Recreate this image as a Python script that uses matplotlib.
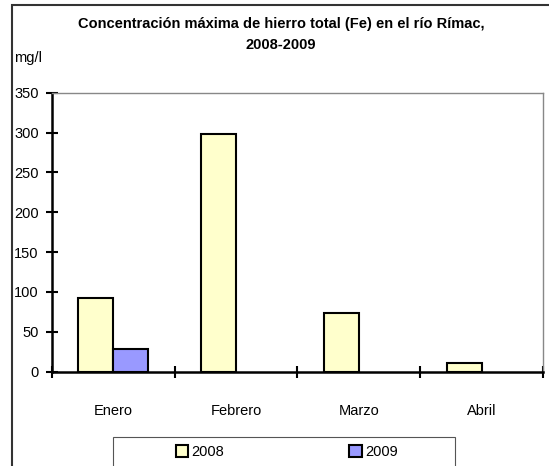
import numpy as np
import matplotlib.pyplot as plt
from matplotlib.patches import Rectangle

meses = ['Enero', 'Febrero', 'Marzo', 'Abril']
fe_2008 = [92, 298, 73, 11]
fe_2009 = [28, 0, 0, 0]
anios = ['2008', '2009']
colores = ['#FFFFCC', '#9999FF']

plt.rcParams['font.family'] = ['Liberation Sans', 'DejaVu Sans']

fig = plt.figure(figsize=(5.49, 4.66), dpi=100)
ax = fig.add_axes([0.0947, 0.2024, 0.8943, 0.5987])

x = np.arange(len(meses))
w = 1 / 3.5
b1 = ax.bar(x - w / 2, fe_2008, w, color=colores[0], edgecolor='black', linewidth=1.5, label=anios[0])
vals09 = [v if v > 0 else np.nan for v in fe_2009]
b2 = ax.bar(x + w / 2, vals09, w, color=colores[1], edgecolor='black', linewidth=1.5, label=anios[1])

ax.set_xlim(-0.5, len(meses) - 0.5)
ax.set_ylim(0, 350)
ax.set_yticks(range(0, 351, 50))
ax.set_xticks(np.arange(-0.5, len(meses), 1.0))
ax.set_xticklabels([])
ax.set_xticks(x, minor=True)
ax.set_xticklabels(meses, minor=True, fontsize=10.5)
ax.tick_params(axis='x', which='minor', length=0, pad=23)
ax.tick_params(axis='both', which='major', direction='inout', length=9, width=1.5, labelsize=10.5)
ax.tick_params(axis='y', pad=5)

for s in ['left', 'bottom']:
    ax.spines[s].set_linewidth(1.8)
for s in ['top', 'right']:
    ax.spines[s].set_color('#888888')
    ax.spines[s].set_linewidth(1.0)

fig.text(0.512, 0.926, 'Concentración máxima de hierro total (Fe) en el río Rímac,\n2008-2009',
         ha='center', va='center', fontsize=10.5, fontweight='bold', linespacing=1.55)
fig.text(0.026, 0.875, 'mg/l', ha='left', va='center', fontsize=10.5)

# marco exterior del grafico
fig.patches.append(Rectangle((12 / 549, -0.1), 1.2, 1 - 5 / 466 + 0.1, transform=fig.transFigure,
                             fill=False, edgecolor='#333333', linewidth=1.5))
# marco de la leyenda
fig.patches.append(Rectangle((113 / 549, -0.1), 342 / 549, 0.1 + 1 - 437 / 466, transform=fig.transFigure,
                             fill=False, edgecolor='#555555', linewidth=0.8))

leg = fig.legend(handles=[b1, b2], labels=anios, loc='center left',
                 bbox_to_anchor=(176 / 549, 1 - 452 / 466), ncol=2, frameon=False,
                 fontsize=10.5, handlelength=0.85, handleheight=0.85, handletextpad=0.2,
                 borderpad=0.0, borderaxespad=0.0, columnspacing=8.6)

fig.savefig('out.png', dpi=100)
